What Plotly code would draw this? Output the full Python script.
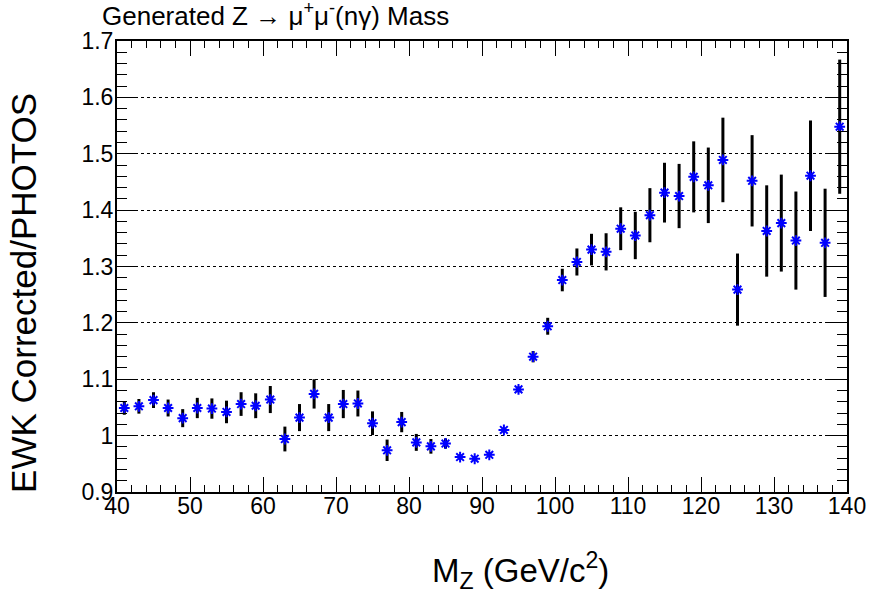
import plotly.graph_objects as go

mass = [41, 43, 45, 47, 49, 51, 53, 55, 57, 59, 61, 63, 65, 67, 69, 71, 73, 75, 77, 79,
        81, 83, 85, 87, 89, 91, 93, 95, 97, 99, 101, 103, 105, 107, 109, 111, 113, 115, 117, 119,
        121, 123, 125, 127, 129, 131, 133, 135, 137, 139]
ratio = [1.049, 1.052, 1.063, 1.049, 1.031, 1.049, 1.048, 1.042, 1.056, 1.053,
         1.064, 0.994, 1.032, 1.074, 1.032, 1.056, 1.057, 1.022, 0.974, 1.024,
         0.988, 0.981, 0.986, 0.962, 0.959, 0.966, 1.010, 1.082, 1.140, 1.194,
         1.276, 1.308, 1.330, 1.326, 1.367, 1.355, 1.391, 1.431, 1.425, 1.459,
         1.444, 1.489, 1.259, 1.452, 1.363, 1.377, 1.346, 1.461, 1.342, 1.548]
ratio_err = [0.012, 0.013, 0.014, 0.015, 0.016, 0.018, 0.018, 0.020, 0.021, 0.022,
             0.024, 0.022, 0.024, 0.026, 0.024, 0.025, 0.023, 0.021, 0.019, 0.018,
             0.015, 0.013, 0.009, 0.005, 0.004, 0.004, 0.004, 0.005, 0.010, 0.015,
             0.020, 0.024, 0.028, 0.033, 0.038, 0.042, 0.048, 0.053, 0.057, 0.063,
             0.067, 0.075, 0.064, 0.081, 0.081, 0.086, 0.087, 0.098, 0.096, 0.119]

x_ticks = [40, 50, 60, 70, 80, 90, 100, 110, 120, 130, 140]
x_ticktext = ["40", "50", "60", "70", "80", "90", "100", "110", "120", "130", "140"]
y_ticks = [0.9, 1.0, 1.1, 1.2, 1.3, 1.4, 1.5, 1.6, 1.7]
y_ticktext = ["0.9", "1", "1.1", "1.2", "1.3", "1.4", "1.5", "1.6", "1.7"]

title_text = "Generated Z \u2192 \u03bc<sup>+</sup>\u03bc<sup>-</sup>(n\u03b3) Mass"
x_title = "M<sub>Z</sub> (GeV/c<sup>2</sup>)"
y_title = "EWK Corrected/PHOTOS"

FONT = "Liberation Sans, Arial, Helvetica, sans-serif"
W, H = 878, 590
L, R, T, B = 117, 24, 41, 98
pw, ph = W - L - R, H - T - B

fig = go.Figure()
fig.add_trace(go.Scatter(
    x=mass, y=ratio, mode="markers",
    marker=dict(symbol="asterisk-open", size=9, color="#0000ff",
                line=dict(color="#0000ff", width=2)),
    error_y=dict(type="data", array=ratio_err, visible=True,
                 color="black", thickness=3, width=0),
    showlegend=False,
))

axis_common = dict(
    showline=True, linecolor="black", linewidth=2, mirror="ticks",
    ticks="inside", tickcolor="black", tickwidth=1,
    zeroline=False,
    tickfont=dict(family=FONT, size=23, color="black"),
)

fig.update_layout(
    width=W, height=H,
    margin=dict(l=L, r=R, t=T, b=B),
    paper_bgcolor="white", plot_bgcolor="white",
    xaxis=dict(range=[40, 140], tickvals=x_ticks, ticktext=x_ticktext,
               ticklen=15, showgrid=False, ticklabelstandoff=-8,
               minor=dict(dtick=2, tick0=40, ticklen=7, ticks="inside",
                          tickcolor="black", showgrid=False),
               **axis_common),
    yaxis=dict(range=[0.9, 1.7], tickvals=y_ticks, ticktext=y_ticktext,
               ticklen=20, showgrid=True, gridcolor="black", griddash="dot",
               gridwidth=1, ticklabelstandoff=-3,
               minor=dict(dtick=0.02, tick0=0.9, ticklen=10, ticks="inside",
                          tickcolor="black", showgrid=False),
               **axis_common),
    title=dict(text=title_text, x=102 / W, xanchor="left",
               y=1 - 16 / H, yanchor="middle",
               font=dict(family=FONT, size=26, color="black")),
)

fig.add_annotation(text=x_title, xref="paper", yref="paper",
                   x=(524 - L) / pw, y=-(570 - (T + ph)) / ph,
                   xanchor="center", yanchor="middle", showarrow=False,
                   font=dict(family=FONT, size=33, color="black"))
fig.add_annotation(text=y_title, xref="paper", yref="paper",
                   x=(22 - L) / pw, y=((T + ph) - 293) / ph,
                   xanchor="center", yanchor="middle", showarrow=False,
                   textangle=-90,
                   font=dict(family=FONT, size=35, color="black"))

fig.write_html("out.html",
               config={"displayModeBar": False},
               post_script="document.body.style.margin='0';"
                           "document.documentElement.style.overflow='hidden';")
